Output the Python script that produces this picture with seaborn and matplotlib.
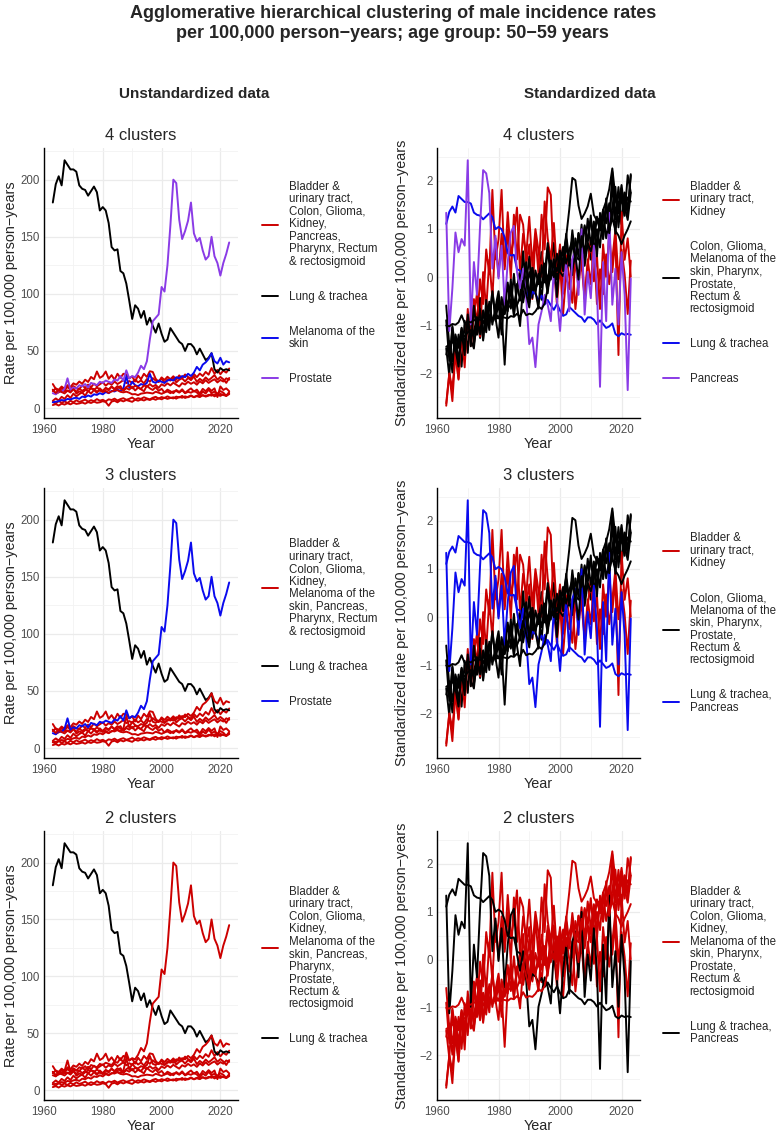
import numpy as np
import pandas as pd
import matplotlib
matplotlib.use("Agg")
import matplotlib.pyplot as plt
from matplotlib.lines import Line2D
from matplotlib.ticker import MultipleLocator
import seaborn as sns

sns.set_theme(style="white")
plt.rcParams['font.family'] = ['Liberation Sans', 'DejaVu Sans']

# Data: male incidence per 100,000 person-years, age 50-59
years = list(range(1963, 2024))

bladder = [14.8, 17.2, 16.0, 18.8, 16.8, 20.0, 18.4, 21.6, 20.4, 23.2,
           21.2, 24.8, 22.8, 27.2, 25.2, 32.0, 26.4, 28.0, 32.0, 25.6,
           28.8, 24.8, 30.0, 26.4, 30.0, 29.2, 26.0, 27.6, 23.2, 28.4,
           25.2, 30.0, 27.2, 32.2, 31.6, 25.6, 22.8, 26.0, 22.0, 25.2,
           24.0, 26.4, 22.4, 24.8, 26.0, 23.2, 26.4, 24.4, 27.6, 22.8,
           25.6, 23.6, 26.8, 24.4, 26.4, 28.8, 24.8, 27.2, 25.2, 22.0,
           26.3]
colon = [21.0, 16.8, 14.0, 17.5, 15.2, 18.6, 16.0, 19.2, 17.4, 16.5,
         19.8, 17.6, 20.5, 18.2, 21.4, 19.0, 20.8, 22.5, 19.6, 21.8,
         20.4, 23.2, 21.0, 22.6, 24.5, 21.8, 23.6, 22.2, 25.0, 22.4,
         24.2, 21.6, 25.4, 23.0, 26.2, 24.0, 22.8, 26.8, 24.6, 27.4,
         25.2, 27.8, 24.8, 28.6, 26.0, 29.4, 27.2, 25.8, 29.8, 27.0,
         30.2, 28.0, 31.6, 29.2, 35.0, 30.0, 33.4, 29.6, 32.8, 31.0,
         34.6]
glioma = [5.2, 4.0, 6.1, 4.6, 5.8, 4.4, 6.4, 5.0, 6.8, 5.4,
          6.2, 7.4, 5.6, 6.9, 6.0, 7.8, 6.4, 7.2, 5.8, 7.6,
          7.0, 8.2, 6.6, 7.8, 8.6, 7.2, 8.0, 9.2, 7.4, 8.6,
          8.0, 9.4, 8.4, 7.6, 9.0, 9.8, 8.2, 9.6, 8.8, 10.2,
          9.0, 8.4, 10.0, 9.2, 10.6, 8.8, 9.8, 11.0, 9.4, 10.4,
          9.6, 11.2, 10.0, 10.8, 12.4, 10.2, 11.6, 10.6, 12.0, 11.0,
          12.8]
kidney = [6.3, 8.4, 6.6, 9.8, 8.0, 11.2, 8.8, 12.6, 10.2, 12.2,
          13.6, 10.8, 15.0, 12.6, 15.8, 13.3, 17.2, 14.7, 17.5, 15.4,
          18.9, 16.1, 17.2, 19.2, 15.0, 17.5, 16.1, 18.6, 15.4, 17.8,
          16.4, 14.7, 19.6, 17.2, 15.8, 18.2, 15.0, 16.8, 13.6, 16.1,
          14.7, 13.0, 15.8, 14.0, 16.4, 13.3, 15.4, 17.2, 14.4, 16.1,
          12.6, 16.8, 14.7, 17.5, 15.0, 17.2, 9.6, 18.9, 15.8, 17.2,
          14.7]
lung = [180, 196, 203, 195, 217, 213, 209, 209, 207, 195,
        192, 191, 186, 190, 194, 189, 173, 176, 173, 162,
        141, 138, 139, 120, 118, 109, 94, 78, 90, 87,
        79, 85, 73, 79, 72, 66, 74, 65, 58, 60,
        70, 66, 62, 58, 56, 50, 56, 56, 53, 47,
        52, 47, 42, 44, 48, 34, 31, 35, 33, 34,
        33]
melanoma = [5.0, 5.5, 6.0, 7.0, 6.5, 8.0, 7.5, 8.5, 9.0, 8.0,
            10.0, 9.5, 11.0, 10.0, 12.0, 11.5, 13.0, 12.0, 14.0, 13.0,
            15.0, 14.5, 16.0, 15.0, 17.0, 28.0, 18.0, 23.0, 20.0, 19.0,
            21.0, 20.0, 22.0, 30.0, 23.0, 22.0, 24.0, 23.0, 22.0, 24.0,
            25.0, 24.0, 27.0, 26.0, 28.0, 27.0, 30.0, 28.0, 31.0, 36.0,
            33.0, 38.0, 40.0, 43.0, 48.0, 41.0, 39.0, 44.0, 38.0, 41.0,
            40.0]
pancreas = [16.0, 12.4, 13.7, 15.4, 14.8, 15.2, 15.0, 17.6, 12.6, 14.5,
            13.5, 15.6, 17.3, 17.2, 16.6, 14.3, 15.3, 14.0, 15.0, 13.2,
            14.5, 15.4, 15.6, 14.2, 13.7, 14.3, 13.4, 12.0, 12.2, 11.3,
            12.6, 13.0, 13.5, 13.2, 12.7, 14.3, 13.4, 12.4, 13.7, 14.5,
            13.0, 14.6, 14.9, 13.5, 15.5, 12.9, 14.2, 13.4, 15.0, 13.7,
            10.7, 14.5, 12.7, 16.0, 13.2, 14.3, 12.6, 14.8, 13.5, 10.6,
            14.0]
pharynx = [2.6, 3.4, 2.2, 3.8, 3.0, 4.2, 3.2, 4.6, 3.6, 4.0,
           4.8, 3.8, 5.2, 4.4, 5.6, 4.6, 5.0, 6.0, 5.2, 2.0,
           5.6, 6.4, 5.0, 6.8, 5.8, 7.0, 6.2, 5.4, 7.2, 6.4,
           7.4, 6.6, 7.8, 7.0, 8.2, 7.2, 8.6, 7.6, 9.0, 8.0,
           8.8, 9.4, 8.2, 9.8, 9.0, 10.2, 9.4, 10.6, 9.6, 10.8,
           10.0, 11.2, 10.4, 11.6, 10.8, 12.0, 11.0, 12.4, 11.4, 10.6,
           12.2]
prostate = [13, 12, 15, 14, 17, 26, 16, 18, 17, 20,
            19, 21, 18, 22, 21, 20, 23, 22, 24, 23,
            22, 25, 24, 28, 24, 33, 26, 28, 27, 31,
            37, 34, 41, 60, 76, 79, 82, 106, 102, 125,
            160, 200, 197, 165, 148, 155, 164, 180, 153, 146,
            149, 138, 130, 133, 150, 133, 127, 116, 127, 135,
            145]
rectum = [16.0, 13.2, 15.6, 14.0, 12.8, 15.2, 13.6, 16.4, 14.2, 17.0,
          15.0, 16.8, 14.6, 17.4, 15.8, 18.0, 16.2, 14.8, 17.6, 16.4,
          18.6, 16.8, 19.2, 17.0, 15.6, 18.4, 20.0, 17.2, 19.6, 18.0,
          16.8, 19.8, 18.6, 21.0, 18.8, 20.2, 17.6, 20.8, 19.4, 21.6,
          19.8, 22.2, 20.4, 18.8, 21.8, 20.6, 23.0, 21.2, 22.6, 20.4,
          23.4, 21.6, 24.4, 22.0, 23.8, 25.2, 22.4, 24.6, 23.2, 26.0,
          24.8]

sites = ['Bladder & urinary tract', 'Colon', 'Glioma', 'Kidney', 'Lung & trachea',
         'Melanoma of the skin', 'Pancreas', 'Pharynx', 'Prostate', 'Rectum & rectosigmoid']
series = [bladder, colon, glioma, kidney, lung, melanoma, pancreas, pharynx, prostate, rectum]

df = pd.concat([pd.DataFrame({'year': years, 'site': s, 'rate': v}) for s, v in zip(sites, series)],
               ignore_index=True)
df['std_rate'] = df.groupby('site')['rate'].transform(lambda s: (s - s.mean()) / s.std())

RED, BLACK, BLUE, PURPLE = '#CC0000', '#000000', '#0A0AEE', '#8A3BE6'
B, C, G, K, L, M, PA, PH, PR, R = sites

# cluster label, colour, members
unstd = {
    4: [("Bladder &\nurinary tract,\nColon, Glioma,\nKidney,\nPancreas,\nPharynx, Rectum\n& rectosigmoid",
         RED, [B, C, G, K, PA, PH, R]),
        ("Lung & trachea", BLACK, [L]),
        ("Melanoma of the\nskin", BLUE, [M]),
        ("Prostate", PURPLE, [PR])],
    3: [("Bladder &\nurinary tract,\nColon, Glioma,\nKidney,\nMelanoma of the\nskin, Pancreas,\nPharynx, Rectum\n& rectosigmoid",
         RED, [B, C, G, K, M, PA, PH, R]),
        ("Lung & trachea", BLACK, [L]),
        ("Prostate", BLUE, [PR])],
    2: [("Bladder &\nurinary tract,\nColon, Glioma,\nKidney,\nMelanoma of the\nskin, Pancreas,\nPharynx,\nProstate,\nRectum &\nrectosigmoid",
         RED, [B, C, G, K, M, PA, PH, PR, R]),
        ("Lung & trachea", BLACK, [L])],
}
stdz = {
    4: [("Bladder &\nurinary tract,\nKidney", RED, [B, K]),
        ("Colon, Glioma,\nMelanoma of the\nskin, Pharynx,\nProstate,\nRectum &\nrectosigmoid", BLACK, [C, G, M, PH, PR, R]),
        ("Lung & trachea", BLUE, [L]),
        ("Pancreas", PURPLE, [PA])],
    3: [("Bladder &\nurinary tract,\nKidney", RED, [B, K]),
        ("Colon, Glioma,\nMelanoma of the\nskin, Pharynx,\nProstate,\nRectum &\nrectosigmoid", BLACK, [C, G, M, PH, PR, R]),
        ("Lung & trachea,\nPancreas", BLUE, [L, PA])],
    2: [("Bladder &\nurinary tract,\nColon, Glioma,\nKidney,\nMelanoma of the\nskin, Pharynx,\nProstate,\nRectum &\nrectosigmoid",
         RED, [B, C, G, K, M, PH, PR, R]),
        ("Lung & trachea,\nPancreas", BLACK, [L, PA])],
}

W, H = 778, 1132
fig = plt.figure(figsize=(W / 100, H / 100), dpi=100)
LW = 1.4
TXT = '#4D4D4D'


def px_axes(x0, y0, x1, y1):
    return fig.add_axes([x0 / W, 1 - y1 / H, (x1 - x0) / W, (y1 - y0) / H])


def draw_panel(ax, col, clusters, title, ylabel, ystep, legx, ylpad):
    for site in sites:
        color = next(c for lab, c, mem in clusters if site in mem)
        sns.lineplot(data=df[df['site'] == site], x='year', y=col, color=color,
                     linewidth=LW, ax=ax, legend=False)
    ax.set_xticks([1960, 1980, 2000, 2020])
    ax.xaxis.set_minor_locator(MultipleLocator(10))
    ax.yaxis.set_minor_locator(MultipleLocator(ystep / 2))
    ax.grid(True, which='major', color='#EBEBEB', linewidth=0.9)
    ax.grid(True, which='minor', color='#F3F3F3', linewidth=0.6)
    ax.set_axisbelow(True)
    for s in ['top', 'right']:
        ax.spines[s].set_visible(False)
    for s in ['left', 'bottom']:
        ax.spines[s].set_color('black')
        ax.spines[s].set_linewidth(1.0)
    ax.tick_params(which='both', length=0, labelsize=8.3, labelcolor=TXT)
    ax.tick_params(axis='x', pad=4)
    ax.tick_params(axis='y', pad=3)
    ax.set_xlabel('Year', fontsize=10.4, labelpad=1)
    ax.set_ylabel(ylabel, fontsize=10.4, labelpad=ylpad)
    ax.set_title(title, fontsize=12, pad=6)
    handles = [Line2D([], [], color=c, linewidth=LW) for lab, c, mem in clusters]
    leg = ax.legend(handles, [lab for lab, c, mem in clusters], loc='center left',
                    bbox_to_anchor=(legx, 0.5), frameon=False, fontsize=8.3,
                    handlelength=1.35, handletextpad=0.95, labelspacing=2.0,
                    borderpad=0, borderaxespad=0)
    for t in leg.get_texts():
        t.set_linespacing(1.05)


rows = [(148, 418, 4), (488, 758, 3), (831, 1100, 2)]
for top, bot, k in rows:
    axl = px_axes(44, top, 238, bot)
    draw_panel(axl, 'rate', unstd[k], f'{k} clusters',
               'Rate per 100,000 person\u2212years', 50, (262 - 44) / 194, 2)
    axr = px_axes(437, top, 640, bot)
    draw_panel(axr, 'std_rate', stdz[k], f'{k} clusters',
               'Standardized rate per 100,000 person\u2212years', 1, (663 - 437) / 203, 8)

fig.text(0.505, 1 - 13 / H, 'Agglomerative hierarchical clustering of male incidence rates',
         ha='center', va='center', fontsize=13, fontweight='bold')
fig.text(0.505, 1 - 33 / H, 'per 100,000 person\u2212years; age group: 50\u221259 years',
         ha='center', va='center', fontsize=13, fontweight='bold')
fig.text(194 / W, 1 - 94 / H, 'Unstandardized data', ha='center', va='center',
         fontsize=11, fontweight='bold')
fig.text(590 / W, 1 - 94 / H, 'Standardized data', ha='center', va='center',
         fontsize=11, fontweight='bold')

fig.savefig('out.png', dpi=100)
